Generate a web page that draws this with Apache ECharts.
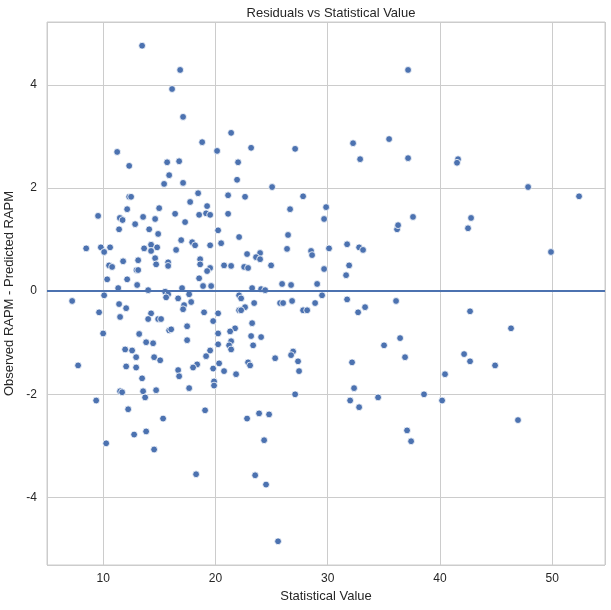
<!DOCTYPE html>
<html>
<head>
<meta charset="utf-8">
<script src="https://cdn.jsdelivr.net/npm/echarts@6/dist/echarts.min.js"></script>
<style>
  html, body { margin: 0; padding: 0; background: #fff; }
  #main { width: 611px; height: 610px; }
</style>
</head>
<body>
<div id="main"></div>
<script>
// statistical value (x) and residual (y)
var statValues = [
  13.47, 16.86, 16.14, 17.12, 21.40, 18.82, 20.15, 11.25, 12.32, 15.70,
  16.77, 15.88, 15.43, 17.12, 22.02, 21.93, 18.46, 21.13, 12.32, 12.49,
  17.75, 19.26, 14.99, 12.14, 9.55, 11.49, 11.73, 13.56, 14.63, 12.85,
  11.42, 14.10, 14.90, 16.41, 18.55, 19.17, 19.53, 17.30, 21.13, 20.24,
  22.11, 8.49, 9.80, 10.09, 10.62, 13.65, 14.27, 14.81, 14.27, 16.95,
  16.50, 17.93, 18.19, 19.53, 20.51, 14.63, 11.78, 13.12, 15.79, 15.79,
  14.72, 18.64, 18.64, 10.53, 10.80, 12.97, 13.12, 19.53, 19.26, 20.77,
  21.40, 10.36, 12.14, 18.55, 13.03, 11.34, 18.90, 19.62, 14.01, 17.03,
  15.52, 15.79, 15.61, 17.66, 16.68, 7.24, 10.09, 17.84, 17.21, 17.12,
  11.42, 12.05, 22.11, 9.64, 11.51, 14.27, 14.01, 14.90, 15.16, 18.99,
  20.24, 19.80, 22.11, 10.00, 13.21, 15.88, 16.06, 17.48, 17.48, 20.24,
  21.75, 21.31, 13.83, 14.45, 20.24, 21.40, 21.22, 21.40, 11.96, 12.58,
  12.94, 14.54, 15.08, 19.53, 19.17, 7.77, 12.05, 12.94, 18.37, 18.01,
  20.33, 19.80, 20.77, 21.84, 16.68, 16.77, 13.47, 19.88, 19.88, 17.66,
  11.51, 11.69, 13.56, 13.74, 14.72, 9.38, 12.23, 15.34, 19.08, 12.76,
  13.83, 10.27, 14.54, 18.28, 37.16, 23.18, 27.10, 25.05, 22.64, 27.81,
  26.65, 29.86, 32.26, 35.47, 32.89, 37.16, 29.68, 26.47, 26.38, 22.82,
  23.98, 23.62, 23.98, 28.52, 28.61, 30.12, 24.96, 22.56, 22.91, 29.68,
  25.94, 26.74, 29.06, 23.27, 24.07, 24.43, 22.29, 29.50, 26.83, 25.76,
  26.03, 23.45, 22.64, 22.29, 28.88, 27.81, 28.17, 23.27, 23.18, 24.07,
  23.36, 26.92, 26.74, 25.32, 27.36, 22.91, 23.09, 27.45, 31.73, 32.80,
  33.15, 31.91, 31.64, 36.18, 36.27, 37.60, 31.73, 32.71, 33.33, 36.09,
  35.02, 36.45, 36.89, 32.17, 32.35, 27.10, 22.82, 23.89, 24.78, 24.34,
  23.54, 24.51, 25.58, 32.00, 32.80, 34.49, 38.58, 37.07, 37.43, 40.19,
  46.95, 41.61, 41.52, 47.85, 52.39, 42.77, 42.50, 49.89, 42.68, 46.33,
  42.15, 42.68, 44.91, 40.45
];
var residuals = [
  4.76, 4.29, 3.92, 3.38, 3.07, 2.89, 2.72, 2.70, 2.43, 2.50,
  2.52, 2.25, 2.08, 2.10, 2.50, 2.16, 1.90, 1.86, 1.83, 1.83,
  1.73, 1.65, 1.61, 1.59, 1.46, 1.42, 1.38, 1.44, 1.40, 1.30,
  1.20, 1.20, 1.11, 1.50, 1.48, 1.51, 1.48, 1.34, 1.50, 1.18,
  1.05, 0.83, 0.85, 0.76, 0.85, 0.83, 0.90, 0.85, 0.78, 0.99,
  0.80, 0.95, 0.89, 0.89, 0.93, 0.64, 0.58, 0.60, 0.56, 0.49,
  0.52, 0.62, 0.52, 0.50, 0.47, 0.41, 0.41, 0.45, 0.39, 0.50,
  0.49, 0.23, 0.23, 0.25, 0.12, 0.06, 0.10, 0.10, 0.02, 0.06,
  -0.01, -0.06, -0.12, -0.06, -0.14, -0.19, -0.08, -0.21, -0.27, -0.35,
  -0.25, -0.33, -0.08, -0.41, -0.50, -0.43, -0.54, -0.54, -0.54, -0.41,
  -0.43, -0.58, -0.37, -0.82, -0.83, -0.76, -0.74, -0.68, -0.95, -0.82,
  -0.72, -0.78, -0.99, -1.01, -1.03, -0.97, -1.05, -1.13, -1.13, -1.15,
  -1.28, -1.28, -1.34, -1.15, -1.26, -1.44, -1.46, -1.48, -1.42, -1.48,
  -1.40, -1.50, -1.55, -1.61, -1.53, -1.65, -1.69, -1.75, -1.83, -1.88,
  -1.94, -1.96, -1.94, -2.06, -1.92, -2.12, -2.29, -2.47, -2.31, -2.78,
  -2.72, -2.95, -3.07, -3.55, 4.29, 2.78, 2.76, 2.02, 1.83, 1.84,
  1.59, 1.63, 2.87, 2.95, 2.56, 2.58, 1.40, 1.09, 0.82, 0.72,
  0.74, 0.66, 0.62, 0.78, 0.70, 0.83, 0.50, 0.47, 0.45, 0.43,
  0.14, 0.12, 0.14, 0.06, 0.04, 0.02, -0.14, -0.08, -0.19, -0.23,
  -0.23, -0.23, -0.31, -0.37, -0.23, -0.37, -0.37, -0.62, -0.87, -0.89,
  -1.05, -1.17, -1.24, -1.30, -1.36, -1.38, -1.44, -1.55, 0.91, 0.85,
  0.80, 0.50, 0.31, 1.20, 1.28, 1.44, -0.16, -0.41, -0.31, -0.19,
  -1.05, -0.91, -1.28, -1.38, -1.88, -2.00, -2.47, -2.37, -2.39, -2.89,
  -3.57, -3.75, -4.85, -2.12, -2.25, -2.06, -2.00, -2.70, -2.91, -2.12,
  -2.50, 2.56, 2.49, 2.02, 1.84, 1.42, 1.22, 0.76, -0.39, -0.72,
  -1.22, -1.36, -1.44, -1.61
];
var xRange = [5.0, 54.7];
var yRange = [-5.31, 5.22];
var zeroLine = 0;

var points = statValues.map(function (v, i) { return [v, residuals[i]]; });

var textColor = '#262626';
var gridColor = '#cccccc';
var font = '"Liberation Sans", Arial, sans-serif';

var chart = echarts.init(document.getElementById('main'));
chart.setOption({
  animation: false,
  backgroundColor: '#ffffff',
  title: {
    text: 'Residuals vs Statistical Value',
    left: 326, top: 2, textAlign: 'center',
    textStyle: { fontFamily: font, fontSize: 13, fontWeight: 'normal', color: textColor }
  },
  grid: {
    left: 47, right: 6, top: 22, bottom: 45,
    outerBoundsMode: 'none', containLabel: false,
    show: true, borderColor: gridColor, borderWidth: 1
  },
  xAxis: {
    type: 'value', min: xRange[0], max: xRange[1],
    name: 'Statistical Value', nameLocation: 'middle', nameGap: 25,
    nameTextStyle: { fontFamily: font, fontSize: 13, color: textColor },
    axisLine: { show: false },
    axisTick: { show: false },
    axisLabel: { fontFamily: font, fontSize: 12, color: textColor, margin: 8,
                 showMinLabel: false, showMaxLabel: false },
    splitLine: { show: true, lineStyle: { color: gridColor, width: 1 } }
  },
  yAxis: {
    type: 'value', min: yRange[0], max: yRange[1],
    name: 'Observed RAPM - Predicted RAPM', nameLocation: 'middle', nameGap: 30,
    nameTextStyle: { fontFamily: font, fontSize: 13, color: textColor },
    axisLine: { show: false },
    axisTick: { show: false },
    axisLabel: { fontFamily: font, fontSize: 12, color: textColor, margin: 10,
                 showMinLabel: false, showMaxLabel: false },
    splitLine: { show: true, lineStyle: { color: gridColor, width: 1 } }
  },
  series: [{
    type: 'scatter',
    data: points,
    symbolSize: 6.8,
    itemStyle: { color: '#4c72b0', borderColor: '#ffffff', borderWidth: 0.8, opacity: 1 },
    markLine: {
      silent: true,
      symbol: 'none',
      label: { show: false },
      lineStyle: { color: '#4c72b0', width: 1.8, type: 'solid' },
      data: [{ yAxis: zeroLine }]
    },
    z: 3
  }]
});
</script>
</body>
</html>
